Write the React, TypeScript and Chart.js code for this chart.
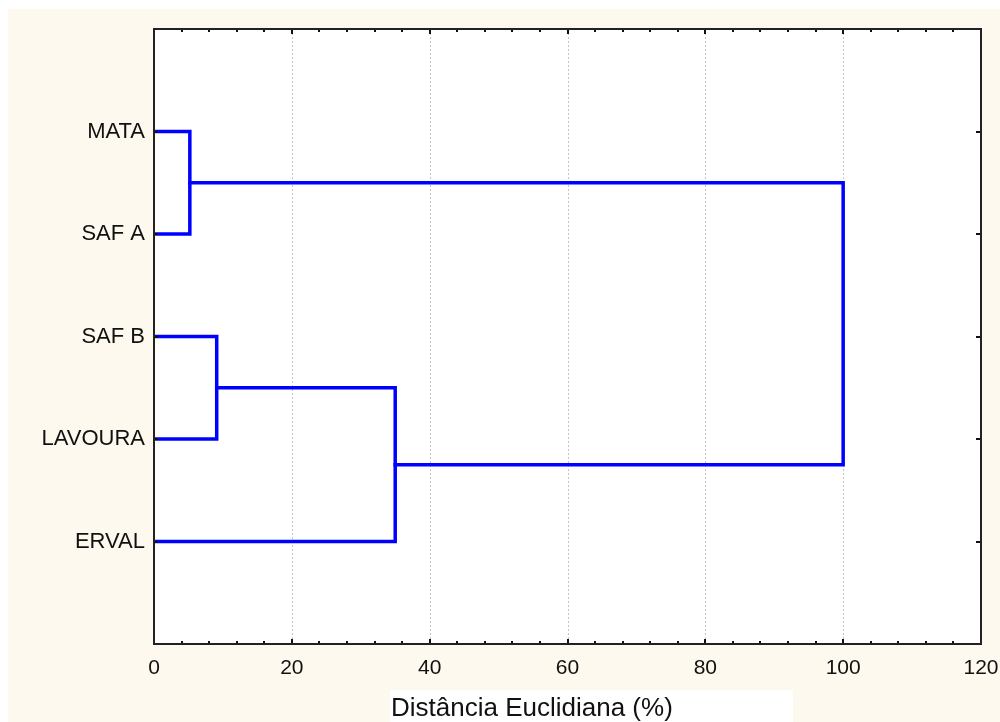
import React, { useEffect, useRef } from 'react';
import { Chart, registerables } from 'chart.js';

Chart.register(...registerables);

// ---- data ----
const leaves = ['MATA', 'SAF A', 'SAF B', 'LAVOURA', 'ERVAL'];
// merges (scipy-style: leaves 0..4, new clusters 5,6,7,8)
const mergeLeft = [0, 2, 6, 5];
const mergeRight = [1, 3, 4, 7];
const mergeHeights = [5.2, 9.1, 35.0, 100.0];
const xTicks = [0, 20, 40, 60, 80, 100, 120];
const xMinorStep = 4;
const xTitle = 'Distância Euclidiana (%)';

const FONT = "'Liberation Sans', Arial, sans-serif";
const CREAM = '#FDF9EF';
const TEXT = '#111111';
const BLUE = '#0000FF';

function buildSegments() {
  const pos = leaves.map((_, i) => ({ x: 0, y: i + 1 }));
  const segs: { x: number; y: number }[][] = [];
  mergeHeights.forEach((h, k) => {
    const a = pos[mergeLeft[k]];
    const b = pos[mergeRight[k]];
    segs.push([
      { x: a.x, y: a.y },
      { x: h, y: a.y },
      { x: h, y: b.y },
      { x: b.x, y: b.y },
    ]);
    pos.push({ x: h, y: (a.y + b.y) / 2 });
  });
  return segs;
}

const decor = {
  id: 'decor',
  beforeDraw(chart: any) {
    const { ctx, width, height, chartArea: a } = chart;
    ctx.save();
    ctx.fillStyle = '#ffffff';
    ctx.fillRect(0, 0, width, height);
    ctx.fillStyle = CREAM;
    ctx.fillRect(8, 9, width - 8, height - 9);
    // white box behind the axis title
    ctx.fillStyle = '#ffffff';
    ctx.fillRect(390, 690, 403, height - 690);
    // plot area
    ctx.fillRect(a.left, a.top, a.right - a.left, a.bottom - a.top);
    ctx.restore();
  },
  beforeDatasetsDraw(chart: any) {
    const { ctx, chartArea: a, scales } = chart;
    const xs = scales.x;
    ctx.save();
    ctx.strokeStyle = '#c4c4c4';
    ctx.lineWidth = 1;
    ctx.setLineDash([2, 2]);
    xTicks.slice(1, -1).forEach((v) => {
      const px = Math.round(xs.getPixelForValue(v)) + 0.5;
      ctx.beginPath();
      ctx.moveTo(px, a.top);
      ctx.lineTo(px, a.bottom);
      ctx.stroke();
    });
    ctx.restore();
  },
  afterDatasetsDraw(chart: any) {
    const { ctx, chartArea: a, scales } = chart;
    const xs = scales.x;
    const ys = scales.y;
    ctx.save();
    ctx.strokeStyle = '#111';
    ctx.lineWidth = 2;
    // ticks on x (top and bottom, inward)
    const xmin = xTicks[0];
    const xmax = xTicks[xTicks.length - 1];
    for (let v = xmin; v <= xmax; v += xMinorStep) {
      const major = xTicks.includes(v);
      const len = major ? 5 : 3;
      const px = Math.round(xs.getPixelForValue(v));
      ctx.beginPath();
      ctx.moveTo(px, a.top);
      ctx.lineTo(px, a.top + len);
      ctx.moveTo(px, a.bottom);
      ctx.lineTo(px, a.bottom - len);
      ctx.stroke();
    }
    // ticks on y (left and right, inward)
    leaves.forEach((_, i) => {
      const py = Math.round(ys.getPixelForValue(i + 1));
      ctx.beginPath();
      ctx.moveTo(a.left, py);
      ctx.lineTo(a.left + 4, py);
      ctx.moveTo(a.right, py);
      ctx.lineTo(a.right - 5, py);
      ctx.stroke();
    });
    // frame
    ctx.strokeStyle = '#222';
    ctx.lineWidth = 2;
    ctx.strokeRect(a.left, a.top, a.right - a.left, a.bottom - a.top);
    // axis title
    ctx.fillStyle = TEXT;
    ctx.font = `26px ${FONT}`;
    ctx.textAlign = 'left';
    ctx.textBaseline = 'alphabetic';
    ctx.fillText(xTitle, 391, 716);
    ctx.restore();
  },
};

export default function App() {
  const ref = useRef<HTMLCanvasElement | null>(null);
  useEffect(() => {
    if (!ref.current) return;
    const segs = buildSegments();
    const chart = new Chart(ref.current, {
      type: 'scatter',
      data: {
        datasets: segs.map((s, i) => ({
          label: 'link' + i,
          data: s,
          showLine: true,
          borderColor: BLUE,
          backgroundColor: BLUE,
          borderWidth: 3.5,
          pointRadius: 0,
          borderJoinStyle: 'miter' as const,
          borderCapStyle: 'square' as const,
        })),
      },
      options: {
        animation: false,
        responsive: true,
        maintainAspectRatio: false,
        layout: { padding: { top: 29, right: 19, left: 0, bottom: 0 } },
        plugins: { legend: { display: false }, tooltip: { enabled: false } },
        scales: {
          x: {
            type: 'linear',
            min: xTicks[0],
            max: xTicks[xTicks.length - 1],
            grid: { display: false, drawTicks: false },
            border: { display: false },
            afterFit: (s: any) => {
              s.height = 78;
              s.paddingLeft = 0;
              s.paddingRight = 0;
              s.paddingTop = 0;
              s.paddingBottom = 0;
            },
            afterBuildTicks: (s: any) => {
              s.ticks = xTicks.map((v) => ({ value: v }));
            },
            ticks: {
              color: TEXT,
              font: { family: FONT, size: 21 },
              padding: 12,
              maxRotation: 0,
              autoSkip: false,
            },
          },
          y: {
            type: 'linear',
            reverse: true,
            min: 0,
            max: leaves.length + 1,
            grid: { display: false, drawTicks: false },
            border: { display: false },
            afterFit: (s: any) => {
              s.width = 154;
              s.paddingLeft = 0;
              s.paddingRight = 0;
              s.paddingTop = 0;
              s.paddingBottom = 0;
            },
            afterBuildTicks: (s: any) => {
              s.ticks = leaves.map((_, i) => ({ value: i + 1 }));
            },
            ticks: {
              color: TEXT,
              font: { family: FONT, size: 22 },
              padding: 9,
              autoSkip: false,
              callback: (v: any) => leaves[Number(v) - 1] ?? '',
            },
          },
        },
      },
      plugins: [decor],
    });
    return () => chart.destroy();
  }, []);
  return (
    <div style={{ position: 'absolute', left: 0, top: 0, width: 1000, height: 722 }}>
      <canvas ref={ref} />
    </div>
  );
}
